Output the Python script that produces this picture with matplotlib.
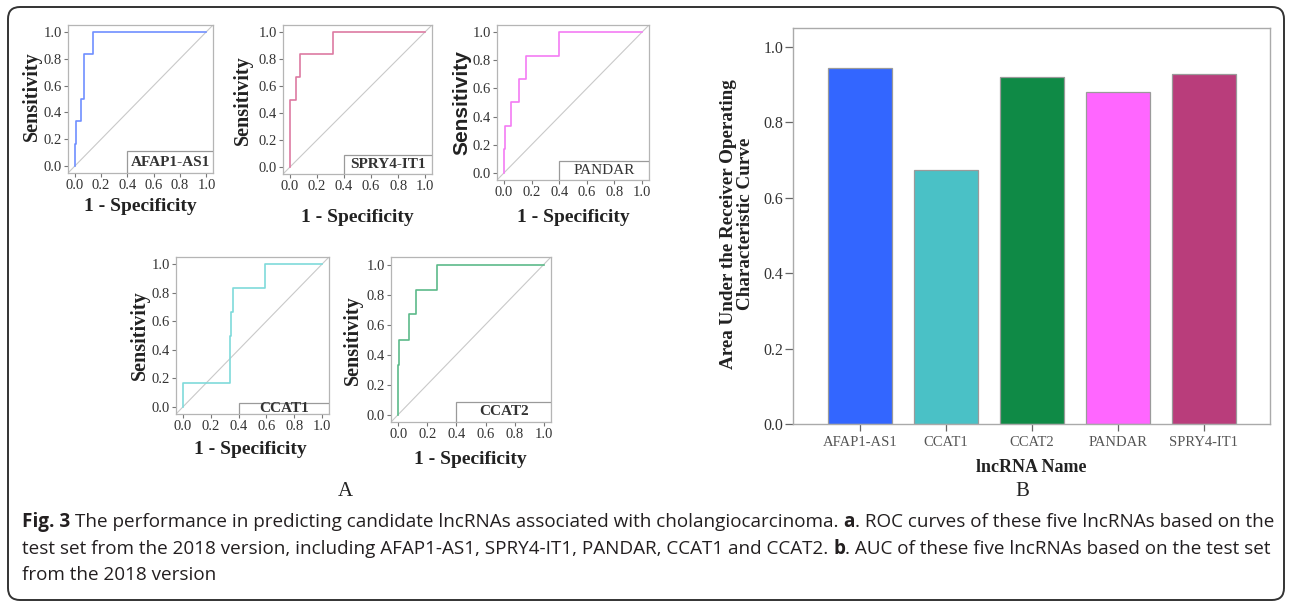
import matplotlib
matplotlib.use("Agg")
import matplotlib.pyplot as plt
from matplotlib.patches import Rectangle, FancyBboxPatch
from matplotlib.transforms import IdentityTransform

W, H = 1292, 607

# ROC curves (corner points)
afap_fpr = [0, 0, 0.013, 0.013, 0.045, 0.045, 0.068, 0.068, 0.139, 0.139, 1.0]
afap_tpr = [0, 0.167, 0.167, 0.333, 0.333, 0.5, 0.5, 0.833, 0.833, 1.0, 1.0]
spry_fpr = [0, 0, 0.005, 0.005, 0.043, 0.043, 0.073, 0.073, 0.318, 0.318, 1.0]
spry_tpr = [0, 0.333, 0.333, 0.5, 0.5, 0.667, 0.667, 0.833, 0.833, 1.0, 1.0]
pandar_fpr = [0, 0, 0.007, 0.007, 0.053, 0.053, 0.108, 0.108, 0.163, 0.163, 0.4, 0.4, 1.0]
pandar_tpr = [0, 0.167, 0.167, 0.333, 0.333, 0.5, 0.5, 0.667, 0.667, 0.833, 0.833, 1.0, 1.0]
ccat1_fpr = [0, 0, 0.335, 0.335, 0.345, 0.345, 0.36, 0.36, 0.59, 0.59, 1.0]
ccat1_tpr = [0, 0.167, 0.167, 0.5, 0.5, 0.667, 0.667, 0.833, 0.833, 1.0, 1.0]
ccat2_fpr = [0, 0, 0.007, 0.007, 0.072, 0.072, 0.122, 0.122, 0.268, 0.268, 1.0]
ccat2_tpr = [0, 0.333, 0.333, 0.5, 0.5, 0.667, 0.667, 0.833, 0.833, 1.0, 1.0]

# AUC bars
genes = ["AFAP1-AS1", "CCAT1", "CCAT2", "PANDAR", "SPRY4-IT1"]
auc = [0.943, 0.673, 0.921, 0.879, 0.928]
bar_colors = ["#3366ff", "#4ac1c6", "#0f8a46", "#ff66ff", "#b93d7b"]

serif = "Liberation Serif"
fig = plt.figure(figsize=(W / 100, H / 100), dpi=100)


def rect(l, t, r, b):
    return [l / W, 1 - b / H, (r - l) / W, (b - t) / H]


def ftext(x, y, s, **kw):
    return fig.text(x / W, 1 - y / H, s, **kw)


# name, fpr, tpr, colour, frame (l,t,r,b), label weight, box top, ylabel pos, ylabel family, xlabel pos
panels = [
    ("AFAP1-AS1", afap_fpr, afap_tpr, "#6f8fff", (68, 25, 213, 173), "bold", 0.11, (32, 96), serif, (140, 207)),
    ("SPRY4-IT1", spry_fpr, spry_tpr, "#dd7aa2", (283, 25, 432, 174), "bold", 0.09, (243, 100), serif, (357, 217)),
    ("PANDAR", pandar_fpr, pandar_tpr, "#f47cf4", (497, 25, 649, 180), "normal", 0.085, (462, 103), "Liberation Sans", (573, 217)),
    ("CCAT1", ccat1_fpr, ccat1_tpr, "#7fdada", (176, 257, 329, 414), "bold", 0.03, (140, 335), serif, (250, 450)),
    ("CCAT2", ccat2_fpr, ccat2_tpr, "#5cba8a", (391, 257, 551, 422), "bold", 0.085, (353, 340), serif, (470, 460)),
]

ticks = [0.0, 0.2, 0.4, 0.6, 0.8, 1.0]
for name, fpr, tpr, col, fr, wt, btop, ylp, yfam, xlp in panels:
    ax = fig.add_axes(rect(*fr))
    ax.set_xlim(-0.05, 1.05)
    ax.set_ylim(-0.05, 1.05)
    ax.axline((0, 0), slope=1, color="#c9c9c9", lw=0.8, zorder=1)
    ax.plot(fpr, tpr, color=col, lw=1.2, zorder=2)
    ax.add_patch(Rectangle((0.4, -0.05), 0.65, btop + 0.05, facecolor="white",
                           edgecolor="#9a9a9a", lw=0.9, zorder=3))
    ax.text(0.725, (btop - 0.05) / 2, name, ha="center", va="center", family=serif,
            fontsize=11, fontweight=wt, color="#333333", zorder=4)
    ax.set_xticks(ticks)
    ax.set_yticks(ticks)
    ax.set_xticklabels([f"{t:.1f}" for t in ticks])
    ax.set_yticklabels([f"{t:.1f}" for t in ticks])
    for lab in ax.get_xticklabels() + ax.get_yticklabels():
        lab.set_family(serif)
    ax.tick_params(direction="out", length=3, width=0.8, color="#777777",
                   labelsize=10.5, labelcolor="#333333", pad=1.5)
    for sp in ax.spines.values():
        sp.set_color("#b5b5b5")
        sp.set_linewidth(0.9)
    ftext(ylp[0], ylp[1], "Sensitivity", rotation=90, ha="center", va="center",
          family=yfam, fontweight="bold", fontsize=14.5 if yfam == serif else 15, color="#222222")
    ftext(xlp[0], xlp[1], "1 - Specificity", ha="center", va="center",
          family=serif, fontweight="bold", fontsize=14, color="#222222")

# bar chart
bx = fig.add_axes(rect(793, 28, 1270, 424))
bx.bar(range(len(genes)), auc, width=0.75, color=bar_colors, edgecolor="#9a9a9a", lw=0.9)
bx.set_xlim(-0.78, 4.77)
bx.set_ylim(0, 1.05)
bx.set_yticks(ticks)
bx.set_yticklabels([f"{t:.1f}" for t in ticks], family=serif)
bx.set_xticks(range(len(genes)))
bx.set_xticklabels(genes, family=serif)
bx.tick_params(axis="y", direction="out", length=6, width=0.9, color="#666666",
               labelsize=11.5, labelcolor="#333333", pad=1)
bx.tick_params(axis="x", direction="out", length=5, width=0.9, color="#666666",
               labelsize=10.5, labelcolor="#555555", pad=4)
for sp in bx.spines.values():
    sp.set_color("#aaaaaa")
    sp.set_linewidth(1)
ftext(737, 224, "Area Under the Receiver Operating\nCharacteristic Curve", rotation=90,
      ha="center", va="center", multialignment="center", family=serif,
      fontweight="bold", fontsize=13.8, color="#222222", linespacing=1.05)
ftext(1031, 467, "lncRNA Name", ha="center", va="center", family=serif,
      fontweight="bold", fontsize=13, color="#222222")

ftext(345, 492, "A", ha="center", va="center", family=serif, fontsize=15, color="#222222")
ftext(1022, 492, "B", ha="center", va="center", family=serif, fontsize=15, color="#222222")

# caption
cap_lines = [
    [("Fig. 3", True), ("The performance in predicting candidate lncRNAs associated with cholangiocarcinoma.", False),
     ("a", True), (". ROC curves of these five lncRNAs based on the", False)],
    [("test set from the 2018 version, including AFAP1-AS1, SPRY4-IT1, PANDAR, CCAT1 and CCAT2.", False),
     ("b", True), (". AUC of these five lncRNAs based on the test set", False)],
    [("from the 2018 version", False)],
]
cap_y = [522, 549, 575]
renderer = fig.canvas.get_renderer()


def draw_caption(fs, keep=True):
    arts = []
    widths = []
    for y, segs in zip(cap_y, cap_lines):
        x = 22
        for i, (s, b) in enumerate(segs):
            if i > 0 and not s.startswith("."):
                x += 0.26 * fs * 100 / 72
            t = ftext(x, y, s, ha="left", va="center", family="Open Sans",
                      fontweight="bold" if b else "normal", fontsize=fs, color="#231f20")
            arts.append(t)
            x += t.get_window_extent(renderer).width
        widths.append(x - 22)
    if not keep:
        for a in arts:
            a.remove()
    return widths


w0 = draw_caption(12, keep=False)[0]
draw_caption(12 * 1246 / w0)

fig.add_artist(FancyBboxPatch((8, 7), 1276, 593, boxstyle="round,pad=0,rounding_size=12",
                              transform=IdentityTransform(), facecolor="none",
                              edgecolor="#333333", lw=1.4))

fig.savefig("out.png", dpi=100)
